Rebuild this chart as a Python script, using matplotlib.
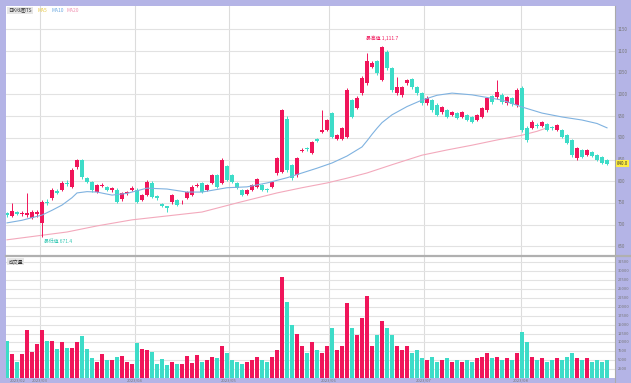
import matplotlib
matplotlib.use("Agg")
import matplotlib.pyplot as plt
import numpy as np

plt.rcParams['font.family'] = ['Noto Sans CJK SC', 'DejaVu Sans']

# daily candles: open, close, high, low
opens = [727, 720, 729, 725, 722, 715, 724, 704, 753, 761, 778, 780, 797, 787, 833, 849, 807, 798, 775, 790,
         787, 780, 780, 759, 773, 780, 780, 757, 768, 796, 766, 747, 742, 752, 757, 751, 761, 768, 789, 796,
         780, 796, 814, 796, 835, 814, 796, 780, 771, 780, 787, 791, 782, 787, 819, 821, 943, 837, 814, 870,
         876, 865, 897, 913, 918, 957, 897, 897, 902, 987, 969, 1003, 1026, 1063, 1077, 1033, 1098, 1061, 1003, 999,
         1026, 1035, 1017, 1003, 980, 987, 976, 959, 964, 953, 957, 948, 953, 948, 941, 948, 964, 996, 994, 999,
         980, 992, 976, 1015, 923, 923, 929, 927, 931, 924, 918, 918, 906, 895, 853, 872, 860, 867, 860, 856, 849]
closes = [722, 731, 724, 727, 727, 729, 728, 752, 749, 780, 774, 796, 794, 826, 849, 810, 798, 780, 791, 792,
          780, 784, 752, 773, 774, 784, 752, 768, 798, 764, 761, 743, 739, 768, 745, 753, 775, 787, 791, 775,
          791, 814, 787, 849, 803, 798, 784, 768, 780, 791, 805, 780, 779, 798, 853, 964, 826, 807, 853, 872,
          874, 890, 893, 918, 941, 902, 906, 923, 1010, 948, 992, 1038, 1077, 1072, 1049, 1109, 1061, 1010, 1017, 1017,
          1033, 1017, 1003, 980, 992, 964, 953, 971, 948, 959, 946, 959, 941, 936, 953, 969, 992, 982, 1005, 982,
          994, 978, 1010, 918, 895, 936, 927, 936, 918, 922, 929, 902, 888, 860, 876, 856, 872, 858, 849, 842, 840]
highs = [729, 750, 731, 732, 773, 734, 733, 757, 760, 785, 782, 800, 803, 830, 851, 852, 810, 800, 794, 796,
         790, 787, 784, 776, 778, 789, 784, 771, 803, 800, 768, 750, 744, 771, 759, 757, 778, 791, 795, 798,
         794, 817, 817, 853, 838, 817, 798, 782, 782, 794, 808, 794, 785, 801, 856, 967, 950, 840, 856, 876,
         879, 893, 900, 964, 944, 960, 909, 926, 1014, 990, 996, 1042, 1095, 1076, 1080, 1111, 1102, 1063, 1040, 1020,
         1036, 1038, 1020, 1005, 996, 990, 980, 974, 967, 962, 960, 962, 955, 950, 955, 971, 994, 999, 1033, 1003,
         997, 994, 1014, 1019, 927, 940, 933, 939, 934, 927, 932, 920, 909, 898, 879, 874, 875, 870, 862, 858, 851]
lows = [718, 718, 722, 720, 718, 712, 718, 671, 745, 757, 770, 777, 790, 784, 828, 806, 795, 776, 772, 786,
        777, 776, 750, 755, 769, 777, 750, 754, 766, 761, 757, 740, 729, 748, 743, 748, 759, 766, 786, 773,
        778, 793, 784, 793, 800, 795, 782, 766, 768, 778, 784, 777, 775, 784, 815, 818, 822, 803, 810, 867,
        870, 862, 890, 910, 915, 899, 895, 895, 899, 945, 966, 999, 1022, 1060, 1045, 1030, 1056, 1005, 999, 994,
        1022, 1013, 999, 976, 976, 960, 950, 955, 945, 950, 943, 945, 938, 933, 938, 945, 960, 978, 990, 978,
        976, 974, 972, 913, 890, 920, 923, 924, 915, 918, 915, 899, 885, 856, 850, 853, 857, 855, 846, 839, 837]
volumes = [10480, 6740, 4590, 6740, 13490, 7400, 9460, 13490, 10480, 10300, 8150, 10200, 8340, 8340, 10030, 11900,
           8150, 5620, 4590, 6740, 5060, 5060, 5900, 6180, 4590, 3930, 9920, 8150, 7870, 7400, 3930, 5340,
           3650, 4590, 3930, 3930, 6180, 4310, 6560, 4500, 5000, 6000, 5500, 9000, 7000, 5000, 4500, 4000,
           4500, 5000, 6000, 5000, 4500, 6000, 8000, 28500, 21500, 15000, 12500, 9000, 7000, 10000, 8000, 7000,
           9000, 14000, 8000, 9000, 21000, 14000, 12000, 17000, 23000, 9000, 12000, 16000, 14000, 12000, 9000, 8000,
           9000, 7000, 8000, 5500, 5000, 6000, 4500, 5000, 5500, 4500, 5000, 4500, 5000, 4500, 5500, 6000,
           7000, 5500, 6000, 5000, 5500, 5000, 7000, 13000, 10000, 6000, 5000, 5500, 4500, 5000, 5500, 5000,
           6000, 7000, 5500, 5000, 5500, 4500, 5000, 4500, 5000]

# moving averages (candle index, value)
ma10_idx = [0, 3, 7, 9, 11, 13, 14, 16, 18, 21, 24, 28, 32, 36, 39, 44, 48, 52, 56, 59, 62, 65, 68,
            71, 72, 73, 74, 75, 77, 80, 83, 86, 89, 93, 96, 99, 103, 107, 111, 115, 118, 120]
ma10_val = [704, 710, 722, 733, 745, 762, 773, 776, 775, 768, 772, 784, 782, 775, 775, 785, 787, 796, 808, 819, 830, 842, 858,
            879, 893, 908, 922, 935, 953, 972, 987, 998, 1003, 999, 993, 987, 971, 957, 948, 941, 933, 923]
ma20_idx = [0, 6, 12, 18, 25, 32, 39, 46, 54, 59, 64, 68, 72, 77, 83, 88, 93, 98, 103, 106, 108]
ma20_val = [665, 674, 683, 697, 711, 720, 729, 750, 773, 785, 796, 807, 819, 838, 860, 872, 883, 895, 906, 915, 923]

price_ticks = [650, 700, 750, 800, 850, 900, 950, 1000, 1050, 1100, 1150]
vol_ticks = [2500, 5000, 7500, 10000, 12500, 15000, 17500, 20000, 22500, 25000, 27500, 30000, 32500]
month_pos = [6.6, 25.6, 44.4, 64.4, 83.4, 102.8]
month_lbl = ['2023/03', '2023/04', '2023/05', '2023/06', '2023/07', '2023/08']

RED = '#f0155a'
TEAL = '#3ddcc8'

fig = plt.figure(figsize=(6.31, 3.83), dpi=100, facecolor='#b4b4e6')
axp = fig.add_axes([6/631, 1-255/383, 609/631, 249/383])
axv = fig.add_axes([6/631, 1-378/383, 609/631, 122/383])

n = len(opens)
x = np.arange(n)
o = np.array(opens); c = np.array(closes)
colors = [RED if c[i] >= o[i] else TEAL for i in range(n)]
body_lo = np.minimum(o, c)
body_h = np.maximum(np.abs(c - o), 1.5)

for ax in (axp, axv):
    ax.set_facecolor('white')
    ax.set_xlim(-0.2, 121.6)
    for s in ax.spines.values():
        s.set_visible(False)
    ax.tick_params(left=False, right=False, bottom=False, top=False,
                   labelleft=False, labelbottom=False)
    for m in month_pos:
        ax.axvline(m, color='#dcdcdc', lw=0.8, zorder=0)

# price panel
axp.set_ylim(630, 1203.7)
for t in price_ticks:
    axp.axhline(t, color='#e2e2e2', lw=0.8, zorder=0)
    axp.text(1.004, t, str(t), transform=axp.get_yaxis_transform(), fontsize=3.2,
             color='#777777', va='center', ha='left', clip_on=False)
axp.vlines(x, lows, highs, colors=colors, lw=0.7, zorder=2)
axp.bar(x, body_h, bottom=body_lo, width=0.8, color=colors, zorder=3)
axp.plot(ma10_idx, ma10_val, color='#7fb2e0', lw=0.8, zorder=4)
axp.plot(ma20_idx, ma20_val, color='#f3a9bc', lw=0.8, zorder=1)

axp.text(75, 1122, '最高值 1,111.7', fontsize=3.5, color=RED, ha='center', va='bottom')
axp.text(7.5, 660, '最低值 671.4', fontsize=3.5, color='#35c8b4', ha='left', va='center')

# legend row
axp.text(0.004, 0.993, '日K线图TS', transform=axp.transAxes, fontsize=3.5, color='#333333',
         va='top', ha='left', bbox=dict(boxstyle='square,pad=0.2', fc='#e6e6e6', ec='none'))
axp.text(0.052, 0.993, 'MA5', transform=axp.transAxes, fontsize=3.5, color='#e8c840', va='top')
axp.text(0.075, 0.993, 'MA10', transform=axp.transAxes, fontsize=3.5, color='#6aa8e0', va='top')
axp.text(0.100, 0.993, 'MA20', transform=axp.transAxes, fontsize=3.5, color='#f090b0', va='top')

# right side axis line and last price tag
fig.add_artist(plt.Line2D([615/631, 615/631], [0, 1-6/383], color='#aaaaaa', lw=0.8))
axp.text(1.003, closes[-1], f'{closes[-1]:.1f}', transform=axp.get_yaxis_transform(),
         fontsize=3.2, color='#333333', va='center', ha='left', clip_on=False,
         bbox=dict(boxstyle='square,pad=0.25', fc='#ffee40', ec='none'))

# separator between panels
fig.add_artist(plt.Line2D([6/631, 1], [1-255.5/383, 1-255.5/383], color='#b0b0b0', lw=1.6))

# volume panel
axv.set_ylim(0, 34300)
for t in vol_ticks:
    axv.axhline(t, color='#e2e2e2', lw=0.8, zorder=0)
    axv.text(1.004, t, str(t), transform=axv.get_yaxis_transform(), fontsize=2.9,
             color='#777777', va='center', ha='left', clip_on=False)
axv.bar(x, volumes, width=0.8, color=colors, zorder=3)
axv.text(0.004, 0.975, '成交量', transform=axv.transAxes, fontsize=3.5, color='#333333',
         va='top', ha='left', bbox=dict(boxstyle='square,pad=0.2', fc='#e6e6e6', ec='none'))
for m, lbl in zip(month_pos, month_lbl):
    axv.text(m, -0.005, lbl, transform=axv.get_xaxis_transform(), fontsize=3,
             color='#777777', ha='center', va='top', clip_on=False)
axv.text(0.5, -0.005, '2023/02', transform=axv.get_xaxis_transform(), fontsize=3,
         color='#777777', ha='left', va='top', clip_on=False)

fig.savefig('out.png', dpi=100, facecolor=fig.get_facecolor())
